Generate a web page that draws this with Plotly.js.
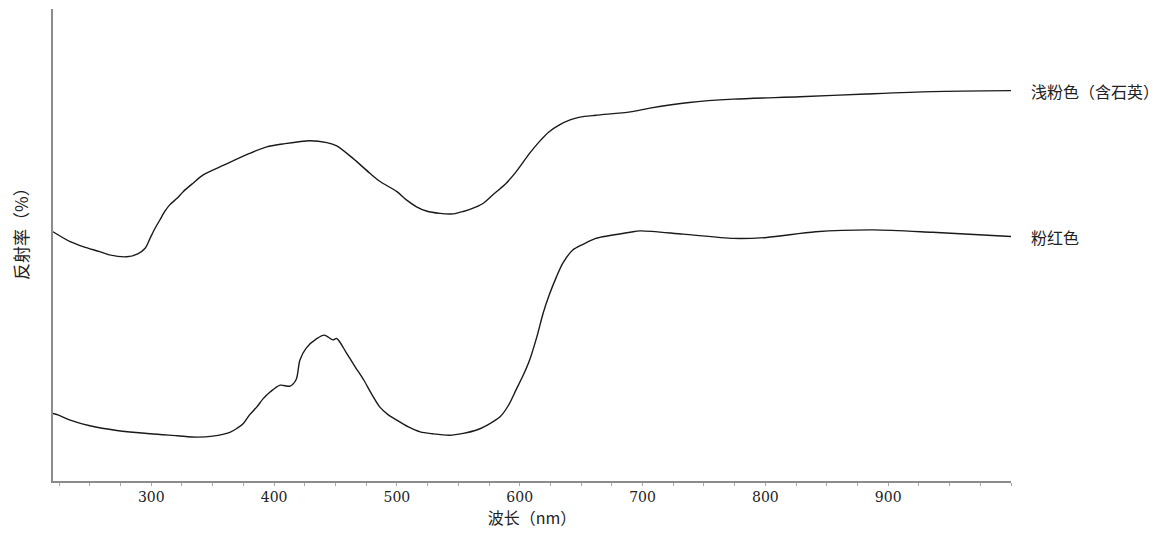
<!DOCTYPE html>
<html>
<head>
<meta charset="utf-8">
<script src="https://cdn.plot.ly/plotly-3.0.1.min.js"></script>
<style>html,body{margin:0;padding:0;background:#fff;}#chart{width:1169px;height:536px;}</style>
</head>
<body>
<div id="chart"></div>
<script>
// 浅粉色（含石英）
const upperWavelength = [220, 234, 245, 258, 266, 280, 289, 295, 299, 303, 307, 311, 315, 321, 326, 334, 342, 359, 380, 394, 407, 429, 443, 451, 464, 478, 486, 500, 508, 516, 524, 535, 546, 554, 562, 570, 578, 589, 597, 608, 616, 624, 632, 641, 649, 662, 690, 706, 738, 774, 828, 882, 936, 1000];
const upperReflectance = [52.8, 50.7, 49.6, 48.6, 47.9, 47.5, 48.1, 49.3, 51.4, 53.5, 55.3, 57.1, 58.5, 59.9, 61.3, 63.1, 64.8, 66.9, 69.4, 70.8, 71.4, 72.1, 71.7, 71.0, 68.4, 65.2, 63.5, 61.3, 59.5, 58.1, 57.2, 56.7, 56.6, 57.1, 57.8, 58.8, 60.6, 63.1, 65.5, 69.4, 71.9, 74.0, 75.4, 76.5, 77.1, 77.5, 78.2, 79.0, 80.2, 80.9, 81.4, 82.0, 82.5, 82.7];
// 粉红色
const lowerWavelength = [220, 224, 234, 250, 272, 299, 321, 337, 350, 364, 370, 375, 380, 386, 391, 397, 405, 413, 418, 421, 426, 435, 441, 448, 451, 459, 466, 473, 479, 486, 493, 500, 509, 519, 529, 543, 554, 565, 574, 584, 591, 597, 603, 608, 614, 619, 624, 630, 635, 643, 652, 662, 690, 698, 733, 774, 801, 841, 888, 936, 1000];
const lowerReflectance = [14.3, 14.0, 12.9, 11.7, 10.7, 10.0, 9.6, 9.3, 9.5, 10.3, 11.2, 12.2, 14.0, 15.7, 17.4, 18.9, 20.3, 20.1, 21.5, 25.6, 28.1, 30.2, 30.9, 29.9, 30.2, 27.1, 24.2, 21.4, 18.6, 15.7, 14.0, 12.9, 11.5, 10.4, 10.0, 9.7, 10.1, 10.8, 11.9, 13.6, 16.1, 19.3, 22.5, 25.6, 30.6, 35.5, 39.4, 43.3, 46.1, 48.9, 50.2, 51.4, 52.7, 53.0, 52.3, 51.4, 51.6, 52.8, 53.2, 52.7, 51.8];
const seriesNames = ["浅粉色（含石英）", "粉红色"];
const tickValues = [300, 400, 500, 600, 700, 800, 900];
const tickLabels = ["300", "400", "500", "600", "700", "800", "900"];

const lineStyle = {color: "#1a1a1a", width: 1.4, shape: "spline", smoothing: 0.8};
const traces = [
  {x: upperWavelength, y: upperReflectance, mode: "lines", line: lineStyle, name: seriesNames[0], hoverinfo: "x+y"},
  {x: lowerWavelength, y: lowerReflectance, mode: "lines", line: lineStyle, name: seriesNames[1], hoverinfo: "x+y"}
];

const cjk = "Noto Sans CJK SC, DejaVu Serif, serif";
const layout = {
  width: 1169, height: 536,
  margin: {l: 53, r: 158, t: 9, b: 55},
  paper_bgcolor: "#fff", plot_bgcolor: "#fff",
  showlegend: false,
  xaxis: {
    range: [220, 1000],
    tickvals: tickValues, ticktext: tickLabels,
    ticks: "outside", ticklen: 3, tickwidth: 1, tickcolor: "#aaa",
    minor: {dtick: 25, tick0: 0, ticks: "outside", ticklen: 3, tickcolor: "#aaa", tickwidth: 1, showgrid: false},
    showgrid: false, zeroline: false,
    showline: true, linecolor: "#8c8c8c", linewidth: 1.6,
    tickfont: {family: "DejaVu Serif, serif", size: 14, color: "#222"},
    title: {text: "波长（nm）", font: {family: cjk, size: 16, color: "#222"}, standoff: 8}
  },
  yaxis: {
    range: [0, 100],
    showticklabels: false, ticks: "",
    showgrid: false, zeroline: false,
    showline: true, linecolor: "#8c8c8c", linewidth: 1.6
  },
  annotations: [
    {xref: "paper", yref: "paper", x: 0, y: (481 - 230) / 472, xshift: -33, xanchor: "center", yanchor: "middle",
     textangle: -90, showarrow: false, text: "反射率（%）", font: {family: cjk, size: 17, color: "#222"}},
    {xref: "paper", yref: "y", x: 1, y: upperReflectance[upperReflectance.length - 1], xshift: 18, xanchor: "left", yanchor: "middle",
     showarrow: false, text: seriesNames[0], font: {family: cjk, size: 16, color: "#222"}},
    {xref: "paper", yref: "y", x: 1, y: lowerReflectance[lowerReflectance.length - 1], xshift: 18, xanchor: "left", yanchor: "middle",
     showarrow: false, text: seriesNames[1], font: {family: cjk, size: 16, color: "#222"}}
  ]
};

Plotly.newPlot("chart", traces, layout, {displayModeBar: false, staticPlot: true});
</script>
</body>
</html>
